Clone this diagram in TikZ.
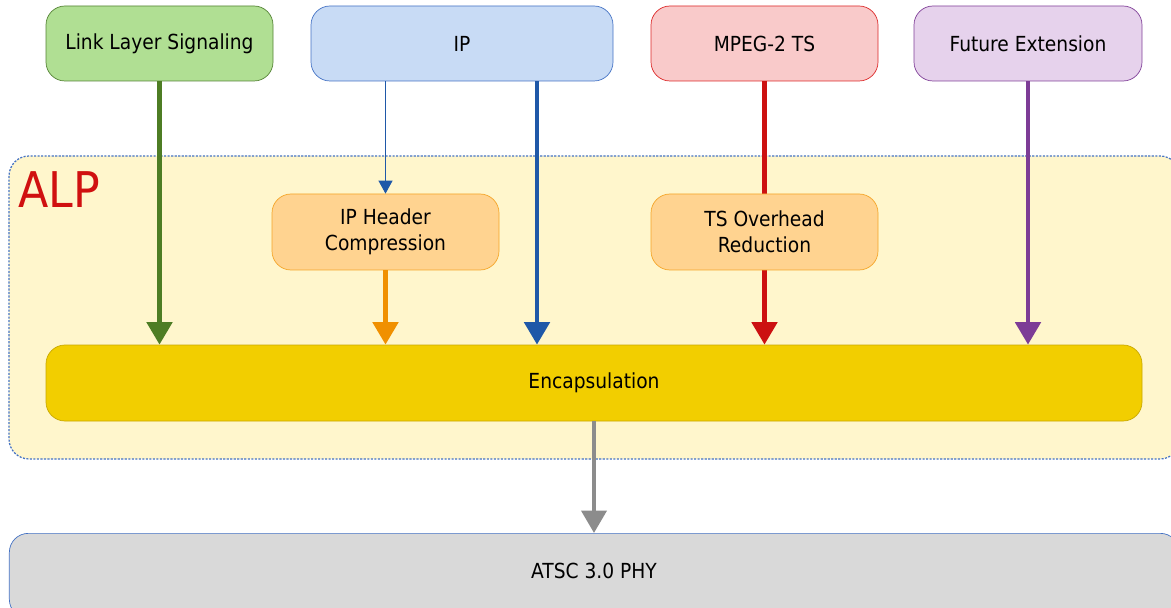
\documentclass[tikz,border=0pt]{standalone}
\usepackage{xcolor}
\usepackage{fontspec}
\setmainfont{DejaVu Sans Condensed}
\usepackage{tikz}
\usetikzlibrary{arrows.meta,positioning}

\definecolor{lsfill}{RGB}{176,223,147}
\definecolor{lsline}{RGB}{84,130,53}
\definecolor{lsarrow}{RGB}{78,125,36}
\definecolor{ipfill}{RGB}{200,219,245}
\definecolor{ipline}{RGB}{68,114,196}
\definecolor{iparrow}{RGB}{31,88,168}
\definecolor{tsfill}{RGB}{249,202,202}
\definecolor{tsline}{RGB}{220,40,40}
\definecolor{tsarrow}{RGB}{204,17,17}
\definecolor{fefill}{RGB}{230,210,236}
\definecolor{feline}{RGB}{128,64,152}
\definecolor{fearrow}{RGB}{125,60,150}
\definecolor{alpfill}{RGB}{255,246,204}
\definecolor{alptext}{RGB}{208,16,16}
\definecolor{subfill}{RGB}{255,211,144}
\definecolor{subline}{RGB}{245,165,40}
\definecolor{subarrow}{RGB}{240,144,0}
\definecolor{encfill}{RGB}{242,206,0}
\definecolor{encline}{RGB}{200,168,0}
\definecolor{phyfill}{RGB}{217,217,217}
\definecolor{greyarrow}{RGB}{140,140,140}

\tikzset{
    block/.style={draw, rounded corners=0.38cm, align=center,
        font=\fontsize{11.8}{14.8}\selectfont, inner sep=0pt},
    topblock/.style={block, minimum height=1.5cm},
    flow/.style={line width=2.8pt,
        -{Triangle[width=0.5cm,length=0.45cm]}},
    thinflow/.style={line width=0.6pt,
        -{Triangle[width=0.28cm,length=0.26cm]}}
}

\begin{document}
\begin{tikzpicture}
                \clip (0,0) rectangle (23.42,-12.16);
                % ALP layer
                \draw [fill=alpfill, draw=ipline, dash pattern=on 1.2pt off 0.8pt,
                    line width=0.7pt, rounded corners=0.4cm] (0.18,-3.12) rectangle (23.6,-9.18);
                \node [text=alptext, font=\fontsize{28}{30}\selectfont,
                    anchor=north west, inner sep=0pt] (alp) at (0.36,-3.42) {ALP};
                % Upper protocols
                \node [topblock, fill=lsfill, draw=lsline, minimum width=4.54cm]
                    (lls) at (3.19,-0.87) {Link Layer Signaling};
                \node [topblock, fill=ipfill, draw=ipline, minimum width=6.04cm]
                    (ip) at (9.24,-0.87) {IP};
                \node [topblock, fill=tsfill, draw=tsline, minimum width=4.54cm]
                    (mpeg) at (15.29,-0.87) {MPEG-2 TS};
                \node [topblock, fill=fefill, draw=feline, minimum width=4.56cm]
                    (future) at (20.56,-0.87) {Future Extension};
                % Encapsulation
                \node [block, fill=encfill, draw=encline, minimum width=21.92cm,
                    minimum height=1.52cm] (encap) at (11.88,-7.66) {Encapsulation};
                % Physical layer
                \node [block, fill=phyfill, draw=ipline, minimum width=23.4cm,
                    minimum height=1.7cm, anchor=north west, text width=23.4cm]
                    (phy) at (0.18,-10.66) {};
                \node at (11.88,-11.42) {\fontsize{11.8}{14.8}\selectfont ATSC 3.0 PHY};
                % Arrows into encapsulation
                \draw [flow, draw=lsarrow, fill=lsarrow] (lls.south) -- (lls.south |- encap.north);
                \draw [flow, draw=iparrow, fill=iparrow] ([xshift=1.5cm]ip.south) -- ([xshift=1.5cm]ip.south |- encap.north);
                \draw [flow, draw=tsarrow, fill=tsarrow] (mpeg.south) -- (mpeg.south |- encap.north);
                \draw [flow, draw=fearrow, fill=fearrow] (future.south) -- (future.south |- encap.north);
                % Header compression / overhead reduction
                \node [block, fill=subfill, draw=subline, minimum width=4.54cm,
                    minimum height=1.52cm] (ipc) at (7.71,-4.64) {IP Header\\Compression};
                \node [block, fill=subfill, draw=subline, minimum width=4.54cm,
                    minimum height=1.52cm] (tso) at (15.29,-4.64) {TS Overhead\\Reduction};
                \draw [thinflow, draw=iparrow, fill=iparrow] (ipc.north |- ip.south) -- (ipc.north);
                \draw [flow, draw=subarrow, fill=subarrow] (ipc.south) -- (ipc.south |- encap.north);
                % Down to PHY
                \draw [flow, draw=greyarrow, fill=greyarrow, line width=2.4pt] (encap.south) -- (encap.south |- phy.north);
            \end{tikzpicture}
\end{document}
